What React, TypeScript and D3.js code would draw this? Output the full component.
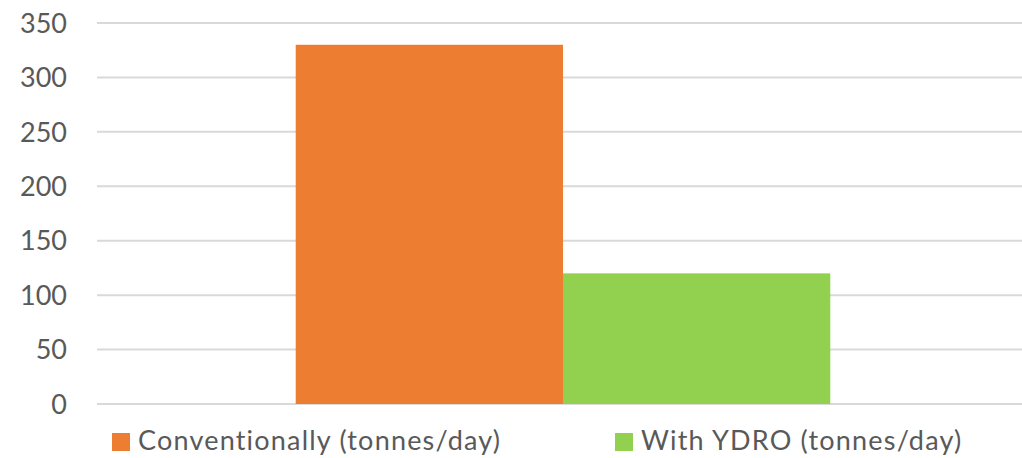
import React from 'react'
import * as d3 from 'd3'

const width = 1022
const height = 458
const margin = { top: 23, right: -7, bottom: 54, left: 97 }

/* chart data */
const categories = ['Total']
const seriesNames = ['Conventionally (tonnes/day)', 'With YDRO (tonnes/day)']
const seriesValues = [330, 120]
const seriesColors = ['#ED7D31', '#92D050']
const yTicks = [0, 50, 100, 150, 200, 250, 300, 350]

const fontFamily = 'Lato, "Open Sans", sans-serif'
const textColor = '#595959'

const App = () => {
    /* scales */
    const x = d3
        .scaleBand()
        .domain(categories)
        .range([margin.left, width - margin.right])
        .padding(0.271)
    const xSeries = d3
        .scaleBand()
        .domain(seriesNames)
        .range([0, x.bandwidth()])
    const y = d3
        .scaleLinear()
        .domain([0, 350])
        .range([height - margin.bottom, margin.top])

    /* legend positions */
    const legend = [
        { name: seriesNames[0], color: seriesColors[0], x: 112 },
        { name: seriesNames[1], color: seriesColors[1], x: 615 },
    ]

    return (
        <svg
            width={width}
            height={height}
            style={{ position: 'absolute', left: 0, top: 0, background: '#fff' }}
        >
            {/* gridlines */}
            {yTicks.map((t) => (
                <line
                    key={t}
                    x1={margin.left}
                    x2={width}
                    y1={y(t)}
                    y2={y(t)}
                    stroke="#D9D9D9"
                    strokeWidth={2}
                />
            ))}
            {/* tick labels */}
            {yTicks.map((t) => (
                <text
                    key={t}
                    x={67}
                    y={y(t)}
                    dy="0.36em"
                    textAnchor="end"
                    fontSize="27px"
                    fontFamily={fontFamily}
                    fill={textColor}
                >
                    {t}
                </text>
            ))}
            {/* bars */}
            {categories.map((c) =>
                seriesNames.map((s, i) => (
                    <rect
                        key={c + s}
                        x={x(c) + xSeries(s)}
                        y={y(seriesValues[i])}
                        width={xSeries.bandwidth()}
                        height={y(0) - y(seriesValues[i])}
                        fill={seriesColors[i]}
                    />
                ))
            )}
            {/* legend */}
            {legend.map((d) => (
                <g key={d.name}>
                    <rect x={d.x} y={433} width={18} height={18} fill={d.color} />
                    <text
                        x={d.x + 26}
                        y={450}
                        fontSize="27px"
                        fontFamily={fontFamily}
                        fill={textColor}
                        letterSpacing="1.2px"
                    >
                        {d.name}
                    </text>
                </g>
            ))}
        </svg>
    )
}

export default App
